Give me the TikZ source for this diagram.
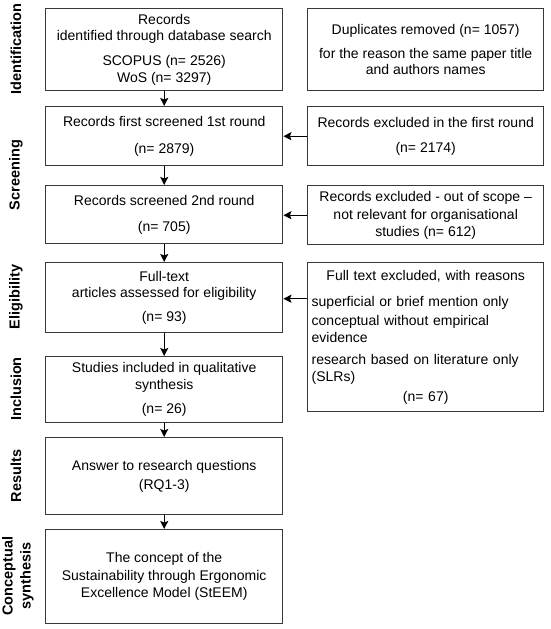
\documentclass[tikz,border=0pt]{standalone}
\usepackage{fontspec}
\setmainfont{Liberation Sans}
\usetikzlibrary{arrows.meta,calc}
\definecolor{boxc}{HTML}{383838}
\begin{document}
\begin{tikzpicture}[x=1pt,y=-1pt,
  box/.style={draw=boxc, line width=1.4pt, inner sep=0pt, anchor=north west, align=center,
    font=\fontsize{14}{16.5}\selectfont, text=black},
  lbox/.style={box, minimum width=237pt},
  rbox/.style={box, minimum width=236pt},
  lab/.style={rotate=90, font=\bfseries\fontsize{14.5}{18}\selectfont, align=center, text=black},
  arr/.style={line width=1.3pt, draw=black, -{Stealth[length=8pt,width=8pt,inset=1.5pt]}}]
\useasboundingbox (0,0) rectangle (550,629);

% left column
\node[lbox, minimum height=82pt] (b1) at (45,8) {Records\\identified through database search\\[8.5pt]SCOPUS (n= 2526)\\WoS (n= 3297)};
\node[lbox, minimum height=59pt] (b2) at (45,106) {Records first screened 1st round\\[10pt](n= 2879)};
\node[lbox, minimum height=58pt] (b3) at (45,185) {Records screened 2nd round\\[9.5pt](n= 705)};
\node[lbox, minimum height=70pt] (b4) at (45,262) {Full-text\\articles assessed for eligibility\\[7pt](n= 93)};
\node[lbox, minimum height=66pt] (b5) at (45,356) {Studies included in qualitative\\synthesis\\[8pt](n= 26)};
\node[lbox, minimum height=77pt] (b6) at (45,437) {Answer to research questions\\[2pt](RQ1-3)};
\node[lbox, minimum height=94pt] (b7) at (45,529) {The concept of the\\[1pt]Sustainability through Ergonomic\\[1pt]Excellence Model (StEEM)};

% right column
\node[rbox, minimum height=82pt] (r1) at (307,8) {Duplicates removed (n= 1057)\\[7.5pt]for the reason the same paper title\\and authors names};
\node[rbox, minimum height=59pt] (r2) at (307,106) {Records excluded in the first round\\[8.5pt](n= 2174)};
\node[rbox, minimum height=59pt] (r3) at (307,185) {Records excluded - out of scope –\\[1.5pt]not relevant for organisational\\studies (n= 612)};
\node[rbox, minimum height=149pt, align=left, text width=228pt, inner xsep=4pt,
  font=\fontsize{14}{17}\selectfont] (r4) at (307,262)
  {\makebox[228pt]{Full text excluded, with reasons}\\[9pt]
   superficial or brief mention only\\[2pt]
   conceptual without empirical\\
   evidence\\[5pt]
   research based on literature only\\
   (SLRs)\\[3pt]
   \makebox[228pt]{(n= 67)}\\[3pt]};

% stage labels
\node[lab] (l1) at (16,49) {Identification};
\node[lab] (l2) at (16,175) {Screening};
\node[lab] (l3) at (16,297) {Eligibility};
\node[lab] (l4) at (16,389) {Inclusion};
\node[lab] (l5) at (16,476) {Results};
\node[lab] (l6) at (18,576) {Conceptual\\synthesis};

% arrows
\draw[arr] (b1.south) -- (b2.north);
\draw[arr] (b2.south) -- (b3.north);
\draw[arr] (b3.south) -- (b4.north);
\draw[arr] (b4.south) -- (b5.north);
\draw[arr] (b5.south) -- (b6.north);
\draw[arr] (b6.south) -- (b7.north);
\draw[arr] (r2.west) -- (r2.west -| b2.east);
\draw[arr] (r3.west) -- (r3.west -| b3.east);
\draw[arr] ($(b4.east -| r4.west)+(0,1)$) -- ($(b4.east)+(0,1)$);
\end{tikzpicture}
\end{document}
